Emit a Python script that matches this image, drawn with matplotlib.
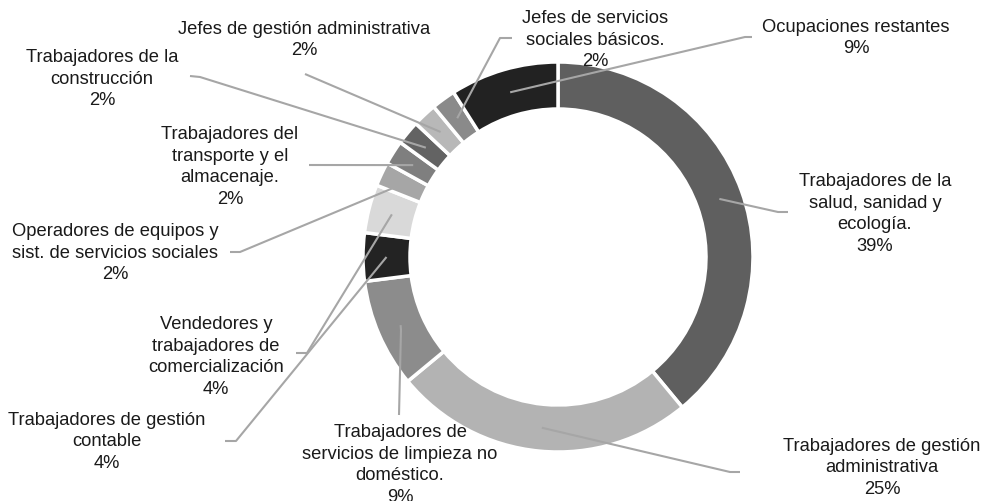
import numpy as np
import matplotlib
matplotlib.use('Agg')
import matplotlib.pyplot as plt

plt.rcParams['font.family'] = ['Liberation Sans', 'DejaVu Sans']

# datos (sentido horario desde arriba)
categorias = [
    'Trabajadores de la\nsalud, sanidad y\necología.',
    'Trabajadores de gestión\nadministrativa',
    'Trabajadores de\nservicios de limpieza no\ndoméstico.',
    'Trabajadores de gestión\ncontable',
    'Vendedores y\ntrabajadores de\ncomercialización',
    'Operadores de equipos y\nsist. de servicios sociales',
    'Trabajadores del\ntransporte y el\nalmacenaje.',
    'Trabajadores de la\nconstrucción',
    'Jefes de gestión administrativa',
    'Jefes de servicios\nsociales básicos.',
    'Ocupaciones restantes',
]
porcentajes = [39, 25, 9, 4, 4, 2, 2, 2, 2, 2, 9]
colores = ['#5f5f5f', '#b3b3b3', '#8c8c8c', '#232323', '#d9d9d9', '#a6a6a6',
           '#7f7f7f', '#636363', '#b8b8b8', '#8a8a8a', '#222222']

# layout en pixeles (origen arriba a la izquierda)
W, H = 986, 501
centro = (558, H - 257)
radio = 195
ancho = 47
pos_texto = [(875, 214), (882, 468), (400, 465), (107, 442), (216, 357), (115, 253),
             (230, 167), (102, 79), (304, 40), (595, 40), (856, 38)]
# codo y final de cada linea guia
codos = [(778, 212), (730, 472), (401, 330), (236, 441), (307, 353), (240, 252),
         (309, 165), (200, 77), (305, 74), (500, 38), (745, 37)]
finales = [(788, 212), (740, 472), (399, 415), (225, 441), (296, 353), (230, 252),
           (309, 165), (190, 76), (305, 74), (512, 38), (752, 37)]

fig = plt.figure(figsize=(W / 100, H / 100), dpi=100)
ax = fig.add_axes([0, 0, 1, 1])

wedges, _ = ax.pie(porcentajes, colors=colores, startangle=90, counterclock=False,
                   radius=radio, center=centro,
                   wedgeprops=dict(width=ancho, edgecolor='white', linewidth=2.5))
ax.set_xlim(0, W)
ax.set_ylim(0, H)
ax.axis('off')

for w, cat, p, (tx, ty), (cx, cy), (ex, ey) in zip(wedges, categorias, porcentajes,
                                                    pos_texto, codos, finales):
    ang = np.deg2rad((w.theta1 + w.theta2) / 2)
    r = radio - ancho / 2
    sx = centro[0] + r * np.cos(ang)
    sy = centro[1] + r * np.sin(ang)
    ax.plot([sx, cx, ex], [sy, H - cy, H - ey], color='#a6a6a6', lw=1.5,
            solid_capstyle='butt', zorder=3)
    ax.text(tx, H - ty, f'{cat}\n{p}%', ha='center', va='center', fontsize=13.2,
            linespacing=1.34, color='#1a1a1a')

fig.savefig('out.png', dpi=100)
